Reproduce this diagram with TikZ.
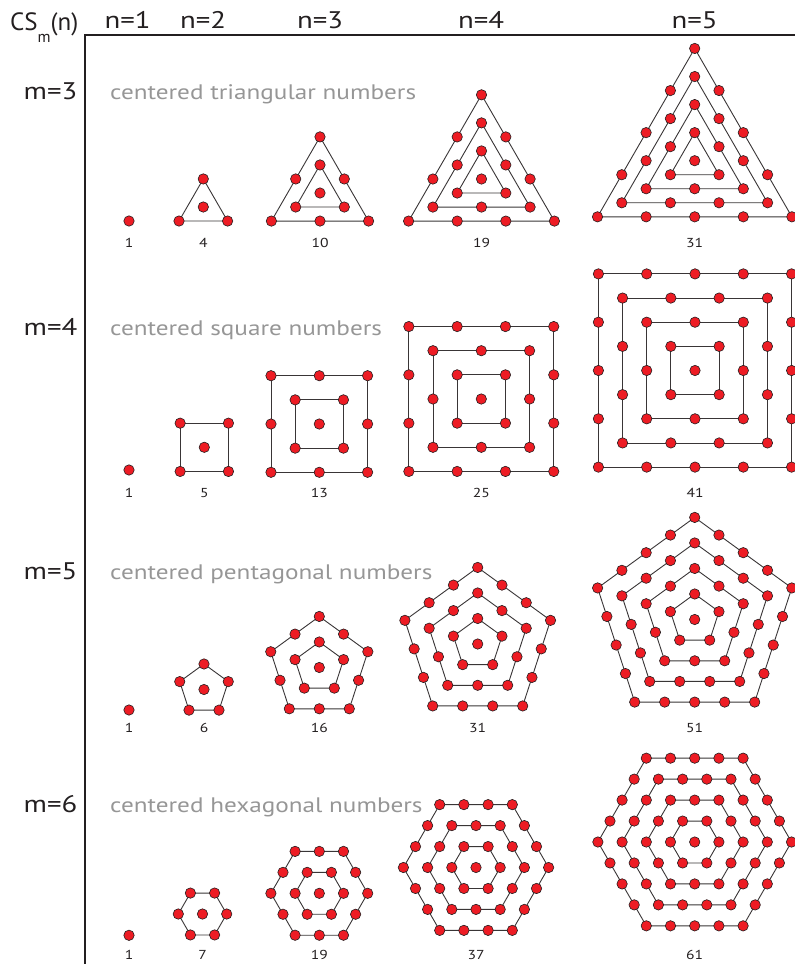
\documentclass[tikz,border=0pt]{standalone}
\usepackage{fontspec}
\setmainfont{PT Sans}[FakeStretch=1.2]
\newfontfamily\plainsans{PT Sans}
\usetikzlibrary{calc,backgrounds}
\definecolor{dotred}{RGB}{237,28,36}
\definecolor{ink}{RGB}{35,31,32}
\definecolor{capgray}{RGB}{150,150,150}
\tikzset{
  rdot/.style={circle, fill=dotred, draw=ink, line width=0.6pt, minimum size=10.4pt, inner sep=0pt},
  polyline/.style={draw=ink!90, line width=0.9pt},
  numlab/.style={font=\fontsize{13}{13}\selectfont, text=ink, inner sep=0pt},
  hdr/.style={font=\fontsize{24}{24}\selectfont, text=ink, anchor=base, inner sep=0pt},
  rowlab/.style={font=\fontsize{24}{24}\selectfont, text=ink, anchor=base east, inner sep=0pt},
  rowcap/.style={font=\fontsize{21}{21}\selectfont, text=capgray, anchor=base west, inner sep=0pt},
  frame/.style={draw=ink, line width=2pt}
}
% #1 m, #2 n, #3 cx, #4 cy, #5 spacing, #6 start angle, #7 label, #8 label y
\newcommand{\cfig}[8]{%
  \begin{scope}[shift={(#3,#4)}]
    \ifnum#2>1\relax
      \pgfmathtruncatemacro{\nmax}{#2-1}%
      \pgfmathtruncatemacro{\mm}{#1-1}%
      \foreach \kk in {1,...,\nmax}{%
        \pgfmathsetmacro{\rr}{\kk*#5/(2*sin(180/#1))}%
        \pgfmathtruncatemacro{\km}{\kk-1}%
        \foreach \jj in {0,...,\mm}{%
          \pgfmathsetmacro{\angA}{#6+\jj*360/#1}%
          \pgfmathsetmacro{\angB}{#6+(\jj+1)*360/#1}%
          \foreach \tp in {0,...,\km}{%
            \pgfmathtruncatemacro{\idx}{\jj*\kk+\tp}%
            \node[rdot] (f#1n#2k\kk i\idx) at ($(\angA:\rr)!\tp/\kk!(\angB:\rr)$) {};
          }%
        }%
        \begin{pgfonlayer}{background}
          \draw[polyline] (f#1n#2k\kk i0.center) \foreach \jj [evaluate=\jj as \cj using int(\jj*\kk)] in {1,...,\mm}{ -- (f#1n#2k\kk i\cj.center)} -- cycle;
        \end{pgfonlayer}
      }%
    \fi
    \node[rdot] (f#1n#2c) at (0,0) {};
  \end{scope}
  \node[numlab] (lab#1n#2) at (#3,#8) {#7};
}
\begin{document}
\begin{tikzpicture}[x=1pt,y=-1pt]
\useasboundingbox (0,0) rectangle (795,964);
\clip (0,0) rectangle (795,964);

% frame
\draw[frame] (84.5,964) -- (84.5,34.5) -- (795,34.5);

% header
\node[anchor=base west, inner sep=0pt, text=ink, font=\plainsans\fontsize{25}{25}\selectfont] (hcs) at (10,30)
  {CS\raisebox{-12pt}{\fontsize{16}{16}\selectfont m}(n)};
\node[hdr] (h1) at (127.5,28.3) {n=1};
\node[hdr] (h2) at (203,28.3) {n=2};
\node[hdr] (h3) at (320,28.3) {n=3};
\node[hdr] (h4) at (481,28.3) {n=4};
\node[hdr] (h5) at (694.5,28.3) {n=5};

% row labels
\node[rowlab] (r3) at (77.5,99) {m=3};
\node[rowlab] (r4) at (77.5,335) {m=4};
\node[rowlab] (r5) at (77.5,579) {m=5};
\node[rowlab] (r6) at (77.5,812) {m=6};
\node[rowcap] (c3) at (110,99) {centered triangular numbers};
\node[rowcap] (c4) at (110,335) {centered square numbers};
\node[rowcap] (c5) at (110,579) {centered pentagonal numbers};
\node[rowcap] (c6) at (110,812) {centered hexagonal numbers};

% triangles
\cfig{3}{1}{129}{221}{48.6}{-90}{1}{243}
\cfig{3}{2}{203.3}{207}{48.6}{-90}{4}{243}
\cfig{3}{3}{320}{193}{48.6}{-90}{10}{243}
\cfig{3}{4}{481.5}{179}{48.6}{-90}{19}{243}
\cfig{3}{5}{694.7}{160.7}{48.6}{-90}{31}{243}

% squares
\cfig{4}{1}{129}{470}{48.3}{45}{1}{493}
\cfig{4}{2}{204.3}{447.3}{48.3}{45}{5}{493}
\cfig{4}{3}{319.3}{424}{48.3}{45}{13}{493}
\cfig{4}{4}{481.3}{399}{48.3}{45}{25}{493}
\cfig{4}{5}{695}{370.5}{48.3}{45}{41}{493}

% pentagons
\cfig{5}{1}{129}{710}{30}{-90}{1}{728}
\cfig{5}{2}{204}{689.5}{30}{-90}{6}{728}
\cfig{5}{3}{319.3}{667.5}{30}{-90}{16}{728}
\cfig{5}{4}{477.7}{644}{30}{-90}{31}{728}
\cfig{5}{5}{694.7}{619.5}{30}{-90}{51}{728}

% hexagons
\cfig{6}{1}{129}{935.3}{24.2}{0}{1}{955}
\cfig{6}{2}{202.5}{914}{24.2}{0}{7}{955}
\cfig{6}{3}{319.3}{893.3}{24.2}{0}{19}{955}
\cfig{6}{4}{476}{867.5}{24.2}{0}{37}{955}
\cfig{6}{5}{694.7}{842}{24.2}{0}{61}{955}
\end{tikzpicture}
\end{document}
